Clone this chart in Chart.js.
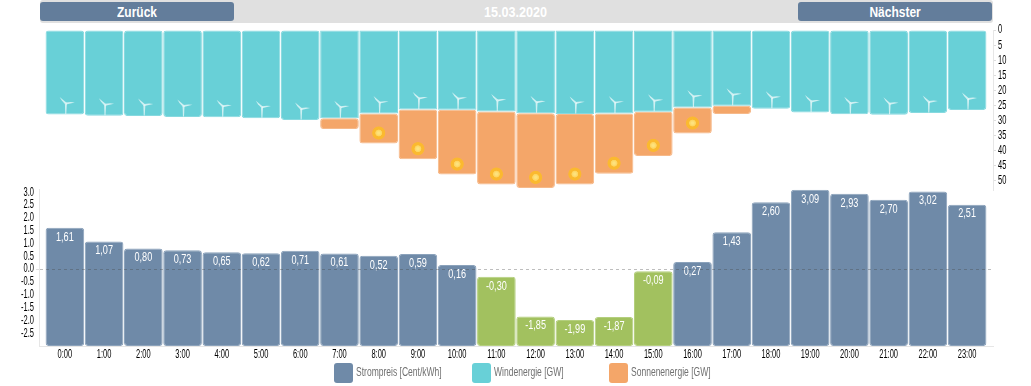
<!DOCTYPE html>
<html><head><meta charset="utf-8">
<script src="https://cdn.jsdelivr.net/npm/chart.js@4"></script>
<style>
html,body{margin:0;padding:0;background:#fff;width:1031px;height:386px;overflow:hidden;font-family:"Liberation Sans",sans-serif}
#hdr{position:absolute;left:40px;top:0;width:953px;height:23px;background:#e0e0e0;border-radius:3px}
.btn{position:absolute;top:2px;height:19px;background:#637d9b;border-radius:3px;color:#fff;font-size:15px;font-weight:bold;line-height:20px;text-align:center;width:194px}
#date{position:absolute;left:0;right:0;top:2px;text-align:center;color:#fff;font-size:15px;font-weight:bold;line-height:20px}
.n{display:inline-block;transform:scaleX(.8)}
#date .n{transform:scaleX(.84);position:relative;left:-1px}
canvas{position:absolute;left:0}
.lg{position:absolute;top:363px;font-size:12px;color:#707070;line-height:19.5px;white-space:nowrap}
.lg i{position:absolute;left:-19.5px;top:0;width:19.5px;height:19.5px;border-radius:3px}
.lg span{display:inline-block;transform:scaleX(.71);transform-origin:0 50%;margin-left:3px}
</style></head><body>
<div id="hdr"><div class="btn" style="left:0"><span class="n">Zurück</span></div><div id="date"><span class="n">15.03.2020</span></div><div class="btn" style="left:758px"><span class="n">Nächster</span></div></div>
<canvas id="top" width="1031" height="200" style="top:0"></canvas>
<canvas id="bot" width="1031" height="206" style="top:180px"></canvas>
<div id="legend"></div>
<script>
const hours=["0:00","1:00","2:00","3:00","4:00","5:00","6:00","7:00","8:00","9:00","10:00","11:00","12:00","13:00","14:00","15:00","16:00","17:00","18:00","19:00","20:00","21:00","22:00","23:00"];
const price=[1.61,1.07,0.80,0.73,0.65,0.62,0.71,0.61,0.52,0.59,0.16,-0.30,-1.85,-1.99,-1.87,-0.09,0.27,1.43,2.60,3.09,2.93,2.70,3.02,2.51];
const wind=[28.0,28.4,28.5,28.8,28.9,29.2,29.8,29.2,27.7,26.3,26.4,27.0,27.6,27.8,27.7,27.1,25.7,25.1,26.1,27.3,27.9,28.1,27.5,26.5];
const solar=[0,0,0,0,0,0,0,3.6,9.9,16.5,21.5,24.2,24.7,23.4,19.9,14.6,8.6,2.7,0,0,0,0,0,0];
const legendNames=["Strompreis [Cent/kWh]","Windenergie [GW]","Sonnenenergie [GW]"];
const BLUE="#6f8aa8",GREEN="#a2c15f",WIND="#68d0d7",SUN="#f4a669";
const FONT='"Liberation Sans",sans-serif';
[[BLUE,353],[WIND,491],[SUN,628]].forEach((c,i)=>{
  const d=document.createElement('div');d.className='lg';d.style.left=c[1]+'px';
  d.innerHTML='<i style="background:'+c[0]+'"></i><span>'+legendNames[i]+'</span>';
  document.getElementById('legend').appendChild(d);
});
// the reference font is very narrow: squeeze every canvas text around its anchor
function narrow(id){
  const c=document.getElementById(id).getContext('2d');
  const f=c.fillText.bind(c);c.sx=.6;
  c.fillText=(t,x,y)=>{c.save();c.translate(x,y);c.scale(c.sx,1);f(t,0,0);c.restore()};
  return c;
}
const xRange={type:'linear',min:-0.66,max:23.66,stacked:true,offset:false,afterBuildTicks:s=>{s.ticks=hours.map((_,i)=>({value:i}))}};
const xy=a=>a.map((v,i)=>({x:i,y:v}));

function turbine(ctx,x,y){
  ctx.save();ctx.translate(x,y);
  ctx.fillStyle='rgba(255,255,255,.68)';
  ctx.beginPath();ctx.moveTo(-1,0);ctx.lineTo(1,0);ctx.lineTo(.4,10.5);ctx.lineTo(-.6,10.5);ctx.closePath();ctx.fill();
  for(const a of [-0.12,3.95]){
    ctx.save();ctx.rotate(a);
    ctx.beginPath();ctx.moveTo(0,-1);ctx.lineTo(5,-.9);ctx.lineTo(9,0);ctx.lineTo(0,1);ctx.closePath();ctx.fill();
    ctx.restore();
  }
  ctx.restore();
}
const icons={id:'icons',afterDatasetsDraw(ch){
  const ctx=ch.ctx;
  ch.getDatasetMeta(0).data.forEach(b=>turbine(ctx,b.x+1,b.y-11));
  ch.getDatasetMeta(1).data.forEach(b=>{
    if(Math.abs(b.y-b.base)<15)return;
    const cy=b.y-10.5,g=ctx.createRadialGradient(b.x,cy,1,b.x,cy,7);
    g.addColorStop(0,'#fde27e');g.addColorStop(.35,'#fdd45e');g.addColorStop(.45,'#fbb92f');g.addColorStop(.85,'#fbb92f');g.addColorStop(1,'rgba(251,185,47,0)');
    ctx.fillStyle=g;ctx.beginPath();ctx.arc(b.x,cy,7,0,7);ctx.fill();
  });
}};
narrow('top');
new Chart(document.getElementById('top'),{type:'bar',
  data:{datasets:[
    {data:xy(wind),backgroundColor:WIND,borderColor:'#86d9df',borderWidth:1,borderRadius:3,borderSkipped:false},
    {data:xy(solar),backgroundColor:SUN,borderColor:'#f6b98a',borderWidth:1,borderRadius:3,borderSkipped:false}]},
  options:{responsive:false,animation:false,barPercentage:.985,categoryPercentage:1,
    layout:{padding:{left:39,right:0,top:30,bottom:10}},
    plugins:{legend:{display:false},tooltip:{enabled:false}},
    scales:{x:{...xRange,display:false},
      y:{position:'right',reverse:true,stacked:true,min:0,max:53,afterFit:s=>{s.width=38},
        border:{color:'#e6e6e6'},
        grid:{drawOnChartArea:false,tickLength:3,tickColor:'#ddd'},
        ticks:{stepSize:5,autoSkip:false,includeBounds:false,color:'#000',padding:2,font:{family:FONT,size:12.5}}}}},
  plugins:[icons]});

const labels={id:'labels',afterDatasetsDraw(ch){
  const ctx=ch.ctx;ctx.save();ctx.sx=.76;ctx.fillStyle='#fff';ctx.font='12px '+FONT;ctx.textAlign='center';ctx.textBaseline='middle';
  ch.getDatasetMeta(0).data.forEach((b,i)=>ctx.fillText(price[i].toFixed(2).replace('.',','),b.x,b.y+9.5));
  ctx.restore();ctx.sx=.6;
}};
narrow('bot');
const isTick=(c,v)=>c.tick&&c.tick.value===v;
new Chart(document.getElementById('bot'),{type:'bar',
  data:{datasets:[{data:xy(price),base:-3,backgroundColor:price.map(v=>v<0?GREEN:BLUE),borderColor:price.map(v=>v<0?'#b4cf7e':'#8ba2bb'),borderWidth:1,borderRadius:3,borderSkipped:false}]},
  options:{responsive:false,animation:false,barPercentage:.985,categoryPercentage:1,
    layout:{padding:{left:0,right:38,top:7,bottom:0}},
    plugins:{legend:{display:false},tooltip:{enabled:false}},
    scales:{x:{...xRange,border:{color:'#e6e6e6'},grid:{display:false,drawTicks:false},afterFit:s=>{s.height=40},
        ticks:{autoSkip:false,maxRotation:0,padding:1,color:'#000',font:{family:FONT,size:12.5},callback:(v,i)=>hours[i]}},
      y:{min:-3,max:3.1,afterFit:s=>{s.width=39},
        border:{color:'#e6e6e6',z:2,dash:[3,3]},
        grid:{z:1,tickLength:3,tickColor:c=>isTick(c,-3)?'transparent':'#ddd',
          lineWidth:c=>isTick(c,0)?1:(c.tick?0:1),color:'rgba(70,70,70,.35)',tickBorderDash:[]},
        ticks:{stepSize:.5,autoSkip:false,includeBounds:false,color:'#000',padding:2,font:{family:FONT,size:12.5},
          callback:v=>v===-3?'':v.toFixed(1)}}}},
  plugins:[labels]});
</script>
</body></html>
